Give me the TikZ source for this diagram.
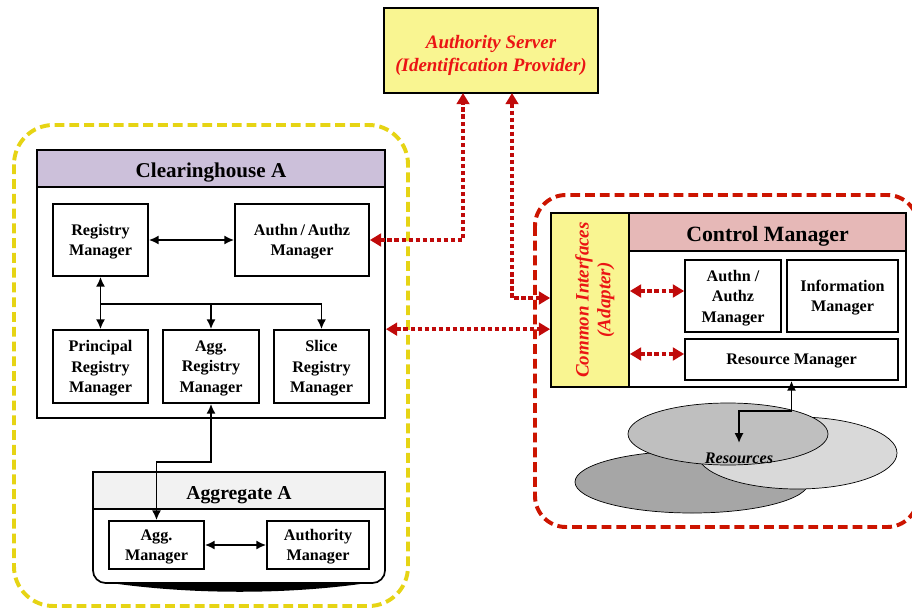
\documentclass[tikz,border=0pt]{standalone}
\usepackage{fontspec}
\setmainfont{Liberation Serif}
\usepackage{tikz}
\usetikzlibrary{arrows.meta}
\definecolor{chyellow}{RGB}{230,212,20}
\definecolor{cmred}{RGB}{204,20,0}
\definecolor{dotred}{RGB}{192,10,10}
\definecolor{txtred}{RGB}{235,20,20}
\definecolor{srvyellow}{RGB}{249,245,145}
\definecolor{lavender}{RGB}{204,192,218}
\definecolor{cmpink}{RGB}{230,184,183}
\definecolor{aggrey}{RGB}{242,242,242}
\definecolor{resdark}{RGB}{166,166,166}
\definecolor{resmid}{RGB}{191,191,191}
\definecolor{reslight}{RGB}{217,217,217}
\newcommand{\topgap}{\rule{0pt}{16.5pt}}
\tikzstyle{box} = [rectangle, draw=black, line width=1.2pt, fill=white, align=center, inner sep=1pt, font=\bfseries\fontsize{11.5}{14.5}\selectfont, text depth=-2.5pt]
\tikzstyle{frame} = [rectangle, draw=black, line width=1.2pt, fill=white]
\tikzstyle{header} = [rectangle, draw=black, line width=1.2pt, align=center, font=\bfseries\fontsize{15}{18}\selectfont, execute at begin node={\rule{0pt}{16.5pt}}]
\tikzstyle{region} = [line width=2.8pt, dash pattern=on 7pt off 3.5pt]
\tikzstyle{arrow} = [line width=1.3pt, ->, >={Latex[length=7pt,width=6.5pt]}]
\tikzstyle{twoway} = [arrow, <->]
\tikzstyle{dotarrow} = [line width=3pt, dotred, dash pattern=on 3pt off 2pt, <->, >={Triangle[length=8pt,width=9pt]}]

\begin{document}
\begin{tikzpicture}[x=0.025cm, y=-0.025cm]
\useasboundingbox (0,0) rectangle (912,610);

% dashed regions
\draw[region, chyellow, rounded corners=28pt] (14,125) rectangle (408,606);
\draw[region, cmred, rounded corners=22pt] (535,195) rectangle (918,527);

\node (server) [rectangle, draw=black, line width=1.2pt, fill=srvyellow, align=center, minimum width=5.35cm, minimum height=2.125cm, text=txtred, font=\bfseries\itshape\fontsize{13.5}{16.5}\selectfont] at (491,50.5) {\topgap Authority Server\\(Identification Provider)};

% clearinghouse
\node (cha) [frame, minimum width=8.7cm, minimum height=6.7cm] at (211,284) {};
\node (chahead) [header, fill=lavender, minimum width=8.7cm, minimum height=0.925cm] at (211,168.5) {Clearinghouse A};
\node (reg) [box, minimum width=2.375cm, minimum height=1.8cm] at (100.5,240) {Registry\\Manager};
\node (authn) [box, minimum width=3.35cm, minimum height=1.8cm] at (302,240) {Authn\,/\,Authz\\Manager};
\node (preg) [box, minimum width=2.375cm, minimum height=1.825cm] at (100.5,366.5) {Principal\\Registry\\Manager};
\node (areg) [box, minimum width=2.4cm, minimum height=1.825cm] at (211,366.5) {Agg.\\Registry\\Manager};
\node (sreg) [box, minimum width=2.375cm, minimum height=1.825cm] at (321.5,366.5) {Slice\\Registry\\Manager};

% aggregate
\fill (104,582) .. controls (190,595) and (290,595) .. (374,582) -- cycle;
\node (agg) [frame, rounded corners=9pt, minimum width=7.3cm, minimum height=2.75cm] at (239,528) {};
\node (agghead) [header, fill=aggrey, minimum width=7.3cm, minimum height=0.875cm, font=\bfseries\fontsize{14}{16}\selectfont] at (239,490.5) {Aggregate A};
\node (amgr) [box, minimum width=2.375cm, minimum height=1.2cm] at (156.5,545) {Agg.\\Manager};
\node (authm) [box, minimum width=2.55cm, minimum height=1.2cm] at (318,545) {Authority\\Manager};

% control manager
\node (cm) [frame, minimum width=6.925cm, minimum height=4.35cm] at (767.5,300) {};
\node (cmhead) [header, fill=cmpink, minimum width=6.925cm, minimum height=0.95cm, font=\bfseries\fontsize{15.5}{18}\selectfont] at (767.5,232) {Control Manager};
\node (ci) [frame, fill=srvyellow, minimum width=1.95cm, minimum height=4.35cm] at (590,300) {};
\node (cilabel) [rotate=90, align=center, text=txtred, font=\bfseries\itshape\fontsize{13.5}{15.5}\selectfont] at (ci) {\topgap Common Interfaces\\(Adapter)};
\node (authn2) [box, minimum width=2.4cm, minimum height=1.8cm] at (733,296) {Authn /\\Authz\\Manager};
\node (info) [box, minimum width=2.775cm, minimum height=1.8cm] at (842.5,296) {Information\\Manager};
\node (res) [box, minimum width=5.325cm, minimum height=1.025cm] at (791.5,359.5) {Resource Manager};

% resources
\draw[fill=resdark, line width=0.5pt] (692,482) ellipse [x radius=117, y radius=31];
\draw[fill=reslight, line width=0.5pt] (797,453) ellipse [x radius=100, y radius=36];
\draw[fill=resmid, line width=0.5pt] (728,434) ellipse [x radius=100, y radius=31];
\node (resources) [font=\bfseries\itshape\fontsize{11.5}{13}\selectfont] at (739,458) {Resources};

% black connectors
\coordinate (hub) at (100.5,304);
\coordinate (kink) at (211,462);
\coordinate (rk) at (791.5,411);
\coordinate (rtip) at (739,443);
\draw [twoway] (reg.east) -- (authn.west);
\draw [twoway] (reg.south) -- (preg.north);
\draw [arrow] (hub) -| (areg.north);
\draw [arrow] (hub) -| (sreg.north);
\draw [twoway] (areg.south) -- (kink) -| (amgr.north);
\draw [twoway] (amgr.east) -- (authm.west);
\draw [twoway] (res.south) -- (rk) -| (rtip);

% red dotted connectors
\coordinate (up1) at (463,93);
\coordinate (up2) at (512,93);
\draw [dotarrow] (authn.east) -| (up1);
\draw [dotarrow] (up2) |- (ci.west |- 0,298);
\draw [dotarrow] (cha.east |- preg.north) -- (ci.west |- preg.north);
\draw [dotarrow] (ci.east |- 0,291) -- (authn2.west |- 0,291);
\draw [dotarrow] (ci.east |- 0,354) -- (res.west |- 0,354);
\end{tikzpicture}
\end{document}
